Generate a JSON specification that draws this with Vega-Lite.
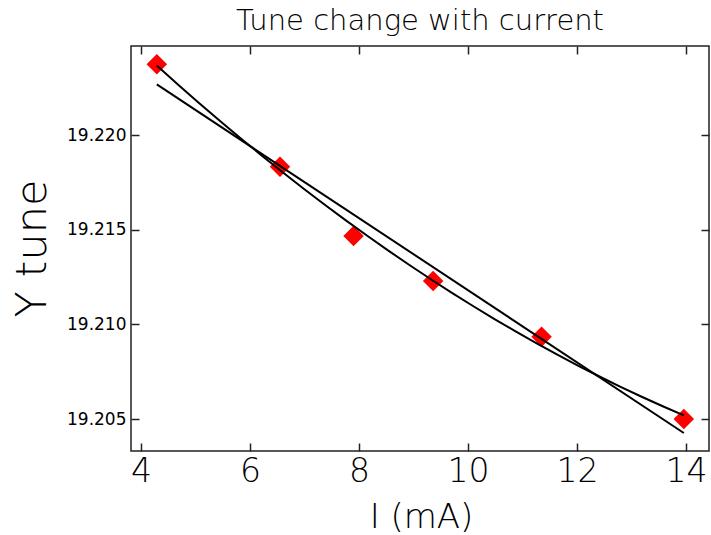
{
  "$schema": "https://vega.github.io/schema/vega-lite/v6.json",
  "autosize": "none",
  "width": 578,
  "height": 405,
  "padding": {"left": 131, "top": 46, "right": 2, "bottom": 84},
  "background": "white",
  "title": {"text": "Tune change with current", "font": "DejaVu Sans", "fontSize": 29, "fontWeight": 200, "color": "#000000", "anchor": "middle", "baseline": "alphabetic", "offset": 17, "dy": 31},
  "config": {
    "view": {"stroke": "#222222", "strokeWidth": 1.5},
    "axis": {"grid": false, "domain": false, "tickColor": "#222222", "tickWidth": 1.5, "tickSize": -8, "labelColor": "#000000", "titleColor": "#000000", "labelFont": "DejaVu Sans", "titleFont": "DejaVu Sans", "titleFontWeight": 200, "labelFontWeight": 200}
  },
  "data": {"values": [
    {"x": 4.29, "y": 19.22377},
    {"x": 6.55, "y": 19.21835},
    {"x": 7.90, "y": 19.21468},
    {"x": 9.36, "y": 19.2123},
    {"x": 11.35, "y": 19.20935},
    {"x": 13.96, "y": 19.2050}
  ]},
  "layer": [
    {
      "mark": {"type": "point", "shape": "diamond", "filled": true, "color": "#ff0000", "size": 420, "opacity": 1, "strokeWidth": 0},
      "encoding": {
        "x": {"field": "x", "type": "quantitative", "scale": {"domain": [3.8165, 14.422], "nice": false, "zero": false},
          "axis": {"orient": "bottom", "values": [4, 6, 8, 10, 12, 14], "labelFontSize": 33, "labelPadding": 12, "title": "I (mA)", "titleFontSize": 34, "titleBaseline": "alphabetic", "titleY": 76, "titleX": 290}},
        "y": {"field": "y", "type": "quantitative", "scale": {"domain": [19.203307, 19.224735], "nice": false, "zero": false},
          "axis": {"orient": "left", "values": [19.205, 19.21, 19.215, 19.22], "format": ".3f", "labelFontSize": 17, "labelFontWeight": 400, "labelPadding": 13, "title": "Y tune", "titleFontSize": 43, "titleBaseline": "alphabetic", "titleAngle": -90, "titleX": -86, "titleY": 202, "titleAnchor": "middle"}}
      }
    },
    {
      "transform": [{"regression": "y", "on": "x", "method": "linear"}],
      "mark": {"type": "line", "color": "#000000", "strokeWidth": 2},
      "encoding": {
        "x": {"field": "x", "type": "quantitative", "scale": {"domain": [3.8165, 14.422], "nice": false, "zero": false},
          "axis": {"orient": "top", "values": [4, 6, 8, 10, 12, 14], "labels": false, "title": null}},
        "y": {"field": "y", "type": "quantitative", "scale": {"domain": [19.203307, 19.224735], "nice": false, "zero": false},
          "axis": {"orient": "right", "values": [19.205, 19.21, 19.215, 19.22], "labels": false, "title": null}}
      }
    },
    {
      "transform": [{"regression": "y", "on": "x", "method": "poly", "order": 2}],
      "mark": {"type": "line", "color": "#000000", "strokeWidth": 2},
      "encoding": {
        "x": {"field": "x", "type": "quantitative", "scale": {"domain": [3.8165, 14.422], "nice": false, "zero": false}, "axis": null},
        "y": {"field": "y", "type": "quantitative", "scale": {"domain": [19.203307, 19.224735], "nice": false, "zero": false}, "axis": null}
      }
    }
  ],
  "resolve": {"axis": {"x": "independent", "y": "independent"}}
}
